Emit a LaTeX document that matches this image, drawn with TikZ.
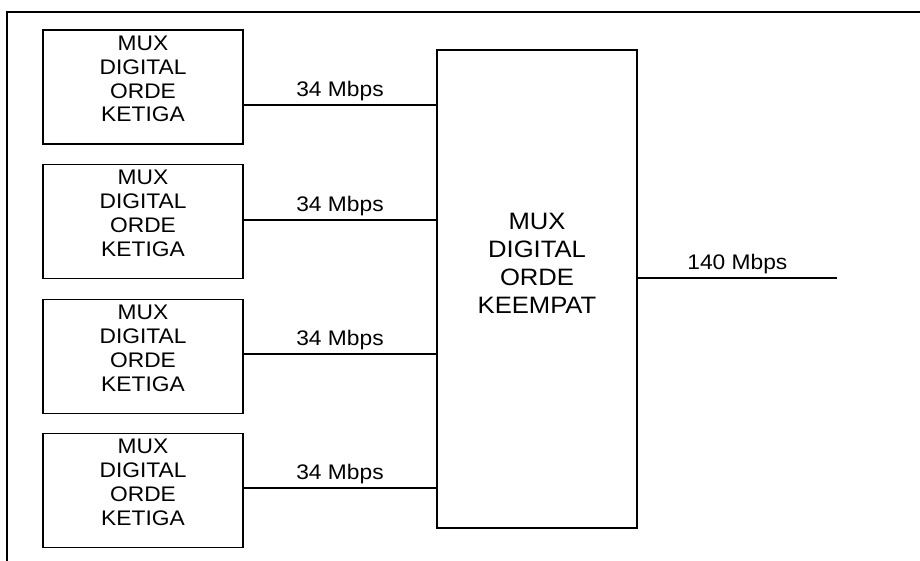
\documentclass[tikz,border=0pt]{standalone}
\usepackage{fontspec}
\setmainfont[FakeStretch=1.08]{Liberation Sans}
\usepackage{tikz}

\tikzset{
  muxbox/.style={draw, line width=0.9pt, minimum width=4cm, minimum height=2.28cm, inner sep=0pt},
  bigbox/.style={draw, line width=0.9pt, minimum width=4cm, minimum height=9.56cm, inner sep=0pt},
  muxtext/.style={align=center, inner sep=0pt, font=\fontsize{12}{13.6}\selectfont},
  bigtext/.style={align=center, inner sep=0pt, font=\fontsize{13.5}{15.9}\selectfont},
  rate/.style={midway, above, inner sep=2pt, font=\fontsize{12}{14}\selectfont}
}

\begin{document}
\begin{tikzpicture}[x=0.02cm,y=-0.02cm,line width=0.9pt]
  \useasboundingbox (0,0) rectangle (920,561);
  % outer frame, cut off at the right and bottom
  \coordinate (F1) at (7,561);
  \coordinate (F2) at (7,12);
  \coordinate (F3) at (920,12);
  \draw (F1) -- (F2) -- (F3);
  \node[bigbox] (K) at (537,289) {};
  \node[bigtext] (KT) at (537,263) {MUX\\DIGITAL\\ORDE\\KEEMPAT};
  \foreach \i/\y/\ly in {1/87/105,2/221.5/220,3/356.5/354,4/490.5/488}{
    \node[muxbox] (M\i) at (143,\y) {};
    \node[muxtext] (T\i) at (143,\y-8) {MUX\\DIGITAL\\ORDE\\KETIGA};
    \draw (M\i.east |- 0,\ly) -- node[rate] (R\i) {34 Mbps} (K.west |- 0,\ly);
  }
  \coordinate (O) at (837,278);
  \draw (K.east |- O) -- node[rate] (R5) {140 Mbps} (O);
\end{tikzpicture}
\end{document}
